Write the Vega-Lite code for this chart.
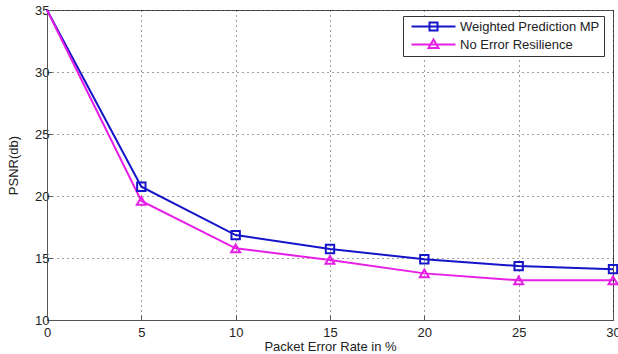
{
  "$schema": "https://vega.github.io/schema/vega-lite/v6.json",
  "width": 566,
  "height": 310,
  "autosize": {"type": "none"},
  "padding": {"left": 47, "top": 10, "right": 5, "bottom": 34},
  "background": "white",
  "config": {
    "font": "Liberation Sans",
    "view": {"stroke": "#555", "strokeWidth": 1},
    "axis": {
      "grid": true,
      "gridColor": "#000",
      "gridDash": [1, 4],
      "gridOpacity": 0.75,
      "domainColor": "#555",
      "tickColor": "#555",
      "tickSize": -5,
      "labelFontSize": 13,
      "labelColor": "#222",
      "titleFontSize": 13,
      "titleFontWeight": "normal",
      "titleColor": "#222",
      "labelFlush": false,
      "labelOverlap": false
    },
    "legend": {
      "title": null,
      "orient": "none",
      "legendX": 356,
      "legendY": 6,
      "padding": 4,
      "fillColor": "white",
      "strokeColor": "#333",
      "symbolSize": 100,
      "symbolOffset": 20,
      "labelOffset": 20,
      "rowPadding": 0,
      "symbolStrokeWidth": 2,
      "symbolFillColor": "transparent",
      "symbolOpacity": 1,
      "labelFontSize": 13,
      "labelColor": "#222"
    }
  },
  "data": {
    "values": [
      {"x": 0, "psnr": 35.0, "series": "Weighted Prediction MP"},
      {"x": 5, "psnr": 20.75, "series": "Weighted Prediction MP"},
      {"x": 10, "psnr": 16.85, "series": "Weighted Prediction MP"},
      {"x": 15, "psnr": 15.73, "series": "Weighted Prediction MP"},
      {"x": 20, "psnr": 14.9, "series": "Weighted Prediction MP"},
      {"x": 25, "psnr": 14.35, "series": "Weighted Prediction MP"},
      {"x": 30, "psnr": 14.1, "series": "Weighted Prediction MP"},
      {"x": 0, "psnr": 35.0, "series": "No Error Resilience"},
      {"x": 5, "psnr": 19.6, "series": "No Error Resilience"},
      {"x": 10, "psnr": 15.78, "series": "No Error Resilience"},
      {"x": 15, "psnr": 14.84, "series": "No Error Resilience"},
      {"x": 20, "psnr": 13.76, "series": "No Error Resilience"},
      {"x": 25, "psnr": 13.2, "series": "No Error Resilience"},
      {"x": 30, "psnr": 13.2, "series": "No Error Resilience"}
    ]
  },
  "encoding": {
    "x": {
      "field": "x",
      "type": "quantitative",
      "scale": {"domain": [0, 30], "nice": false},
      "axis": {"values": [0, 5, 10, 15, 20, 25, 30], "title": "Packet Error Rate in %", "labelPadding": 11, "titlePadding": 1}
    },
    "y": {
      "field": "psnr",
      "type": "quantitative",
      "scale": {"domain": [10, 35], "nice": false},
      "axis": {"values": [10, 15, 20, 25, 30, 35], "title": "PSNR(db)", "labelPadding": 3, "titlePadding": 14}
    },
    "color": {
      "field": "series",
      "type": "nominal",
      "scale": {"domain": ["Weighted Prediction MP", "No Error Resilience"], "range": ["#1414c8", "#e61ee6"]}
    }
  },
  "layer": [
    {"mark": {"type": "line", "strokeWidth": 2}},
    {
      "transform": [{"filter": "datum.x > 0 && datum.series === 'Weighted Prediction MP'"}],
      "mark": {"type": "point", "shape": "square", "filled": false, "strokeWidth": 2, "opacity": 1, "size": 70}
    },
    {
      "transform": [{"filter": "datum.x > 0 && datum.series === 'No Error Resilience'"}],
      "mark": {"type": "point", "shape": "triangle-up", "filled": false, "strokeWidth": 2, "opacity": 1, "size": 80}
    },
    {
      "transform": [{"filter": "datum.x < 0"}],
      "mark": {"type": "point", "filled": false, "strokeWidth": 2, "opacity": 1},
      "encoding": {
        "shape": {
          "field": "series",
          "type": "nominal",
          "scale": {"domain": ["Weighted Prediction MP", "No Error Resilience"], "range": ["M-4.4,0H4.4M-0.8,-0.8H0.8V0.8H-0.8Z", "M-4.4,0H4.4M0,-1L1,0.7H-1Z"]}
        }
      }
    }
  ]
}
